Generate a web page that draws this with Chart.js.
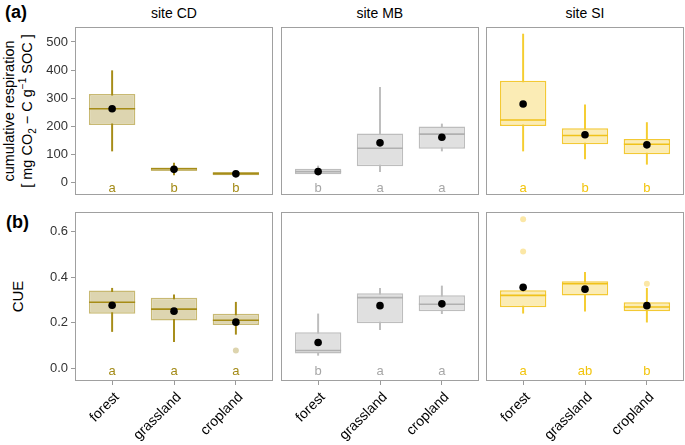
<!DOCTYPE html>
<html><head><meta charset="utf-8">
<script src="https://cdn.jsdelivr.net/npm/chart.js@4"></script>
<style>
body{margin:0;width:685px;height:445px;position:relative;background:#fff;font-family:"Liberation Sans",Arial,sans-serif;overflow:hidden}
.box{position:absolute}
.t{position:absolute;white-space:nowrap;color:#000;line-height:1}
</style></head><body>
<div class="t" style="left:5px;top:3px;font-size:18px;font-weight:bold">(a)</div>
<div class="t" style="left:6px;top:213px;font-size:18px;font-weight:bold">(b)</div>
<div class="t" id="s0" style="top:6px;font-size:14px">site CD</div>
<div class="t" id="s1" style="top:6px;font-size:14px">site MB</div>
<div class="t" id="s2" style="top:6px;font-size:14px">site SI</div>
<div class="t" style="left:-82px;top:93px;width:200px;text-align:center;font-size:14.5px;line-height:18px;transform:rotate(-90deg)">cumulative respiration<br>[ mg CO<sub style="font-size:10px;line-height:0">2</sub> &minus; C g<sup style="font-size:10px;line-height:0">&minus;1</sup> SOC ]</div>
<div class="t" style="left:-3px;top:289px;width:40px;text-align:center;font-size:15px;transform:rotate(-90deg)">CUE</div>
<script>
const categories = ['forest', 'grassland', 'cropland'];
const sites = ['site CD', 'site MB', 'site SI'];
const respTicks = [0, 100, 200, 300, 400, 500];
const cueTicks = [0, 0.2, 0.4, 0.6];
// rows: site CD, site MB, site SI ; columns: forest, grassland, cropland
const respLow    = [[113, 28, 25], [31, 40, 113], [113, 85, 66]];
const respQ1     = [[205, 42, 27], [31, 59, 121], [202, 137, 102]];
const respMedian = [[263, 50, 33], [40, 123, 173], [223, 168, 137]];
const respQ3     = [[315, 55, 39], [50, 175, 200], [362, 194, 156]];
const respHigh   = [[398, 70, 41], [60, 339, 209], [528, 277, 214]];
const respMean   = [[263, 48, 32], [40, 142, 162], [280, 171, 135]];
const respOutliers = [[[], [], []], [[], [], []], [[], [], []]];
const respLetters = [['a', 'b', 'b'], ['b', 'a', 'a'], ['a', 'b', 'b']];
const cueLow    = [[0.162, 0.118, 0.150], [0.058, 0.170, 0.240], [0.242, 0.251, 0.203]];
const cueQ1     = [[0.240, 0.210, 0.190], [0.066, 0.198, 0.251], [0.268, 0.319, 0.251]];
const cueMedian = [[0.290, 0.260, 0.211], [0.079, 0.310, 0.281], [0.320, 0.371, 0.269]];
const cueQ3     = [[0.341, 0.310, 0.240], [0.159, 0.329, 0.320], [0.342, 0.382, 0.290]];
const cueHigh   = [[0.351, 0.322, 0.290], [0.239, 0.351, 0.361], [0.342, 0.421, 0.351]];
const cueMean   = [[0.277, 0.251, 0.203], [0.114, 0.275, 0.283], [0.355, 0.347, 0.275]];
const cueOutliers = [[[], [], [0.079]], [[], [], []], [[0.652, 0.511], [], [0.371]]];
const cueLetters = [['a', 'a', 'a'], ['b', 'a', 'a'], ['a', 'ab', 'b']];

const FONT = '"Liberation Sans", Arial, sans-serif';
const styles = [
  {fill: '#ddd5b0', border: 'rgba(163,138,22,0.6)', whisk: '#a68c17', med: '#a68c17', letter: '#a38a16', out: '#ddd4ae'},
  {fill: '#e0e0e0', border: '#bdbdbd', whisk: '#bdbdbd', med: '#b0b0b0', letter: '#a6a6a6', out: '#d6d6d6'},
  {fill: '#fbecb5', border: '#f3c934', whisk: '#f5cd30', med: '#f0c21a', letter: '#f2c40c', out: '#fbe7a6'}
];
const panelLeft = [75, 281, 486];
const panelWidth = 198;

const rows = [
  {low: respLow, q1: respQ1, med: respMedian, q3: respQ3, high: respHigh, mean: respMean, out: respOutliers,
   letters: respLetters, ticks: respTicks, min: -43, max: 553, letterY: -21, top: 17, height: 188, fmt: v => String(v)},
  {low: cueLow, q1: cueQ1, med: cueMedian, q3: cueQ3, high: cueHigh, mean: cueMean, out: cueOutliers,
   letters: cueLetters, ticks: cueTicks, min: -0.054, max: 0.684, letterY: -0.011, top: 202, height: 243, fmt: v => v.toFixed(1)}
];

function addCanvas(left, top, w, h) {
  const d = document.createElement('div');
  d.className = 'box';
  d.style.left = left + 'px'; d.style.top = top + 'px';
  d.style.width = w + 'px'; d.style.height = h + 'px';
  const c = document.createElement('canvas');
  d.appendChild(c);
  document.body.appendChild(d);
  return c;
}

function panelPlugin(letters, color, letterY) {
  return {
    id: 'panel',
    afterDatasetsDraw(chart) {
      const ctx = chart.ctx, a = chart.chartArea;
      const xs = chart.scales.x, ys = chart.scales.y;
      ctx.save();
      ctx.font = '13px ' + FONT;
      ctx.fillStyle = color;
      ctx.textAlign = 'center';
      ctx.textBaseline = 'middle';
      letters.forEach((t, i) => ctx.fillText(t, xs.getPixelForValue(i + 1), ys.getPixelForValue(letterY)));
      ctx.strokeStyle = '#a0a0a0';
      ctx.lineWidth = 1;
      ctx.strokeRect(Math.round(a.left) + 0.5, Math.round(a.top) + 0.5, Math.round(a.right - a.left) - 1, Math.round(a.bottom - a.top) - 1);
      ctx.restore();
    }
  };
}

rows.forEach((R, r) => {
  sites.forEach((site, s) => {
    const st = styles[s];
    const first = s === 0;
    const showX = r === 1;
    const padLeft = first ? 0 : 40;
    const cLeft = first ? 0 : panelLeft[s] - 40;
    const cWidth = (panelLeft[s] + panelWidth) - cLeft;
    const canvas = addCanvas(cLeft, R.top, cWidth, R.height);
    const pts = arr => categories.map((c, i) => ({x: i + 1, y: arr[s][i]}));
    const outPts = [];
    categories.forEach((c, i) => R.out[s][i].forEach(v => outPts.push({x: i + 1, y: v})));
    new Chart(canvas, {
      type: 'bar',
      data: {
        datasets: [
          {type: 'bar', data: categories.map((c, i) => ({x: i + 1, y: [R.low[s][i], R.high[s][i]]})),
           backgroundColor: st.whisk, borderWidth: 0, barThickness: 1.3, grouped: false, order: 4},
          {type: 'bar', data: categories.map((c, i) => ({x: i + 1, y: [R.q1[s][i], R.q3[s][i]]})),
           backgroundColor: st.fill, borderColor: st.border, borderWidth: 1.5, borderSkipped: false,
           barPercentage: 0.75, categoryPercentage: 1, grouped: false, order: 3},
          {type: 'line', data: pts(R.med), showLine: false, pointStyle: 'line', pointRadius: 23,
           pointHoverRadius: 23, pointBorderColor: st.med, pointBorderWidth: 1.6, order: 2},
          {type: 'line', data: outPts, showLine: false, pointRadius: 3, pointHoverRadius: 3,
           pointBackgroundColor: st.out, pointBorderWidth: 0, order: 2},
          {type: 'line', data: pts(R.mean), showLine: false, pointRadius: 3.8, pointHoverRadius: 3.8,
           pointBackgroundColor: '#000', pointBorderColor: '#000', pointBorderWidth: 0, order: 1}
        ]
      },
      options: {
        responsive: true, maintainAspectRatio: false, animation: false, devicePixelRatio: 1,
        layout: {autoPadding: false, padding: {top: 10, bottom: showX ? 0 : 10, left: padLeft, right: 0}},
        plugins: {legend: {display: false}, tooltip: {enabled: false}},
        scales: {
          x: {
            type: 'linear', min: 0.4, max: 3.6, offset: false, display: showX,
            afterBuildTicks: sc => { sc.ticks = categories.map((c, i) => ({value: i + 1})); },
            afterFit: sc => { if (showX) { sc.height = 64; sc.paddingLeft = 0; sc.paddingRight = 0; } },
            ticks: {callback: v => categories[v - 1], minRotation: 45, maxRotation: 45, autoSkip: false,
                    font: {size: 14, family: FONT}, color: '#000', padding: 4, labelOffset: 5},
            grid: {drawOnChartArea: false, offset: false, tickLength: 4, color: '#9a9a9a'},
            border: {display: false}
          },
          y: {
            type: 'linear', min: R.min, max: R.max, display: first,
            afterBuildTicks: sc => { sc.ticks = R.ticks.map(v => ({value: v})); },
            afterFit: sc => { if (first) { sc.width = 75; sc.paddingTop = 0; sc.paddingBottom = 0; } },
            ticks: {callback: v => R.fmt(v), font: {size: 13, family: FONT}, color: '#333', padding: 3},
            grid: {drawOnChartArea: false, offset: false, tickLength: 4, color: '#9a9a9a'},
            border: {display: false}
          }
        }
      },
      plugins: [panelPlugin(R.letters[s], st.letter, R.letterY)]
    });
  });
});
sites.forEach((site, s) => {
  const el = document.getElementById('s' + s);
  el.style.left = (panelLeft[s] + panelWidth / 2 - el.offsetWidth / 2) + 'px';
});
</script>
</body></html>
